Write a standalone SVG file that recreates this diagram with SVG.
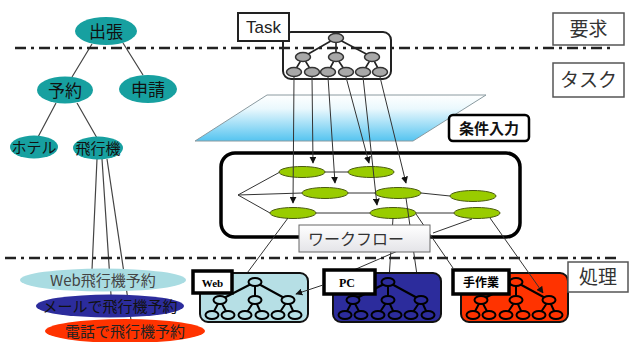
<svg xmlns="http://www.w3.org/2000/svg" width="629" height="342" viewBox="0 0 629 342">
<style>
.jp{font-family:"Noto Sans CJK JP","Noto Sans",sans-serif;}
.dd{stroke:#222;stroke-width:2.5;stroke-dasharray:11 5 3 5;fill:none;}
.teal{fill:#17a0a0;}
.thin{stroke:#333;stroke-width:1;fill:none;}
.ln{stroke:#444;stroke-width:1.2;fill:none;}
.wf{fill:#99cc00;stroke:#4a5a10;stroke-width:1;}
.tn{fill:#a8a8a8;stroke:#333;stroke-width:1.5;}
.te{stroke:#222;stroke-width:1.6;fill:none;}
.be{stroke:#000;stroke-width:2;fill:none;}
.lab{fill:#fff;stroke:#000;stroke-width:3.5;}
.rlab{fill:#fff;stroke:#555;stroke-width:1.5;}
</style>
<defs>
<marker id="ar" viewBox="0 0 10 10" refX="9" refY="5" markerWidth="7" markerHeight="7" orient="auto" markerUnits="userSpaceOnUse">
<path d="M0,0 L10,5 L0,10 z" fill="#111"/>
</marker>
<linearGradient id="plane" x1="0" y1="0" x2="0" y2="1">
<stop offset="0" stop-color="#ffffff"/>
<stop offset="0.3" stop-color="#eaf8fd"/>
<stop offset="1" stop-color="#55c4f0"/>
</linearGradient>
<linearGradient id="wfl" x1="0" y1="0" x2="0" y2="1">
<stop offset="0" stop-color="#ffffff"/>
<stop offset="1" stop-color="#e4e4e8"/>
</linearGradient>
<g id="subtree">
<path class="be" d="M255,282 L220,300 M255,282 L255,300 M255,282 L288,300 M220,300 L212,315 M220,300 L228,315 M255,300 L245,315 M255,300 L262,315 M288,300 L278,315 M288,300 L295,315"/>
<ellipse cx="255" cy="282" rx="6.5" ry="4" stroke="#000" stroke-width="2"/>
<ellipse cx="220" cy="300" rx="6.5" ry="4" stroke="#000" stroke-width="2"/>
<ellipse cx="255" cy="300" rx="6.5" ry="4" stroke="#000" stroke-width="2"/>
<ellipse cx="288" cy="300" rx="6.5" ry="4" stroke="#000" stroke-width="2"/>
<ellipse cx="212" cy="315" rx="6.5" ry="4" stroke="#000" stroke-width="2"/>
<ellipse cx="228" cy="315" rx="6.5" ry="4" stroke="#000" stroke-width="2"/>
<ellipse cx="245" cy="315" rx="6.5" ry="4" stroke="#000" stroke-width="2"/>
<ellipse cx="262" cy="315" rx="6.5" ry="4" stroke="#000" stroke-width="2"/>
<ellipse cx="278" cy="315" rx="6.5" ry="4" stroke="#000" stroke-width="2"/>
<ellipse cx="295" cy="315" rx="6.5" ry="4" stroke="#000" stroke-width="2"/>
</g>
</defs>
<rect width="629" height="342" fill="#fff"/>

<!-- left tree connectors -->
<g id="connectors-left">
<path class="ln" d="M92,44 L72,77 M123,43 L143,75 M56,103 L38,137 M77,103 L97,138"/>
<path class="ln" d="M97,159 L92,270 M102,159 L111,295 M107,159 L131,320"/>
</g>

<!-- plane -->
<g id="plane-input">
<polygon points="267,95 486,95 413,141 195,141" fill="url(#plane)" stroke="#8a9aa0" stroke-width="1"/>
</g>

<!-- Task tree -->
<g id="task">
<rect x="283" y="32" width="108" height="47" rx="8" fill="#fff" stroke="#222" stroke-width="2"/>
<path class="te" d="M336,38 L303,57 M336,38 L336,57 M336,38 L372,57 M303,57 L294,72 M303,57 L312,72 M336,57 L328,72 M336,57 L346,72 M372,57 L363,72 M372,57 L380,72"/>
<ellipse class="tn" cx="336" cy="38" rx="7.5" ry="4.5"/>
<ellipse class="tn" cx="303" cy="57" rx="7.5" ry="4.5"/>
<ellipse class="tn" cx="336" cy="57" rx="7.5" ry="4.5"/>
<ellipse class="tn" cx="372" cy="57" rx="7.5" ry="4.5"/>
<ellipse class="tn" cx="294" cy="72" rx="7.5" ry="4.5"/>
<ellipse class="tn" cx="312" cy="72" rx="7.5" ry="4.5"/>
<ellipse class="tn" cx="328" cy="72" rx="7.5" ry="4.5"/>
<ellipse class="tn" cx="346" cy="72" rx="7.5" ry="4.5"/>
<ellipse class="tn" cx="363" cy="72" rx="7.5" ry="4.5"/>
<ellipse class="tn" cx="380" cy="72" rx="7.5" ry="4.5"/>
<rect x="238" y="13" width="51" height="28" fill="#fff" stroke="#222" stroke-width="2"/>
<text x="263.5" y="33" font-family="Liberation Sans, Arial, sans-serif" font-size="17" text-anchor="middle" fill="#222">Task</text>
</g>

<!-- workflow box -->
<g id="workflow">
<rect x="221" y="153" width="299" height="84" rx="14" fill="#fff" stroke="#000" stroke-width="3.5"/>
<path class="thin" d="M238,195 L280,172 M238,195 L302,193 M238,195 L270,213 M325,172 L348,172 M348,193 L375,193 M421,193 L450,196 M316,213 L370,213 M416,213 L454,213"/>
<ellipse class="wf" cx="302" cy="172" rx="23" ry="5.5"/>
<ellipse class="wf" cx="371" cy="172" rx="23" ry="5.5"/>
<ellipse class="wf" cx="325" cy="193" rx="23" ry="5.5"/>
<ellipse class="wf" cx="398" cy="193" rx="23" ry="5.5"/>
<ellipse class="wf" cx="473" cy="196" rx="23" ry="5.5"/>
<ellipse class="wf" cx="293" cy="213" rx="23" ry="5.5"/>
<ellipse class="wf" cx="393" cy="213" rx="23" ry="5.5"/>
<ellipse class="wf" cx="477" cy="213" rx="23" ry="5.5"/>
</g>

<!-- connectors -->
<g id="connectors">
<path class="thin" marker-end="url(#ar)" d="M294,77 L293,203"/>
<path class="thin" marker-end="url(#ar)" d="M312,77 L313,163"/>
<path class="thin" marker-end="url(#ar)" d="M328,77 L335,183"/>
<path class="thin" marker-end="url(#ar)" d="M346,77 L369,163"/>
<path class="thin" marker-end="url(#ar)" d="M363,77 L377,205"/>
<path class="thin" marker-end="url(#ar)" d="M380,77 L406,183"/>
<path class="thin" d="M288,218 L236,288"/>
<path class="thin" d="M393,218 L389,279"/>
<path class="thin" d="M406,198 L420,296"/>
<path class="thin" d="M472,219 L433,233"/>
<path class="thin" d="M416,214 L453,268"/>
<path class="thin" d="M400,250 L356,269 L323,285"/>
</g>

<!-- workflow label -->
<g id="workflow-label">
<rect x="299" y="225" width="131" height="27" fill="url(#wfl)" stroke="#666" stroke-width="1"/>
<text x="308" y="245" class="jp" font-size="16" fill="#333">ワークフロー</text>
</g>

<!-- condition input -->
<g id="condition">
<rect x="449" y="115" width="80" height="26" rx="4" fill="#fff" stroke="#000" stroke-width="2.5"/>
<text x="489" y="134" class="jp" font-size="15" font-weight="bold" text-anchor="middle" fill="#111">条件入力</text>
</g>

<!-- dash-dot separators -->
<g id="separators">
<line class="dd" x1="15" y1="48" x2="615" y2="48"/>
<line class="dd" x1="5" y1="258" x2="620" y2="258"/>
</g>

<!-- left tree nodes -->
<g id="n-shucchou"><ellipse class="teal" cx="106" cy="31" rx="31" ry="14"/><text x="106" y="37.5" class="jp" font-size="17" text-anchor="middle" fill="#111">出張</text></g>
<g id="n-yoyaku"><ellipse class="teal" cx="65" cy="90" rx="28" ry="13.5"/><text x="65" y="96.5" class="jp" font-size="17" text-anchor="middle" fill="#111">予約</text></g>
<g id="n-shinsei"><ellipse class="teal" cx="148" cy="89" rx="29" ry="14"/><text x="148" y="95.5" class="jp" font-size="17" text-anchor="middle" fill="#111">申請</text></g>
<g id="n-hotel"><ellipse class="teal" cx="34" cy="147" rx="24" ry="11.5"/><text x="34" y="153" class="jp" font-size="15" text-anchor="middle" fill="#111">ホテル</text></g>
<g id="n-hikouki"><ellipse class="teal" cx="98" cy="148" rx="25" ry="11.5"/><text x="98" y="154" class="jp" font-size="15" text-anchor="middle" fill="#111">飛行機</text></g>

<!-- bottom left ellipses -->
<g id="n-web"><ellipse cx="103" cy="280" rx="83" ry="11.5" fill="#a9dce2"/><text x="103" y="286" class="jp" font-size="15" text-anchor="middle" fill="#444">Web飛行機予約</text></g>
<g id="n-mail"><ellipse cx="110" cy="306" rx="74" ry="11.5" fill="#2c2c9c"/><text x="110" y="312" class="jp" font-size="15" text-anchor="middle" fill="#111">メールで飛行機予約</text></g>
<g id="n-tel"><ellipse cx="125" cy="331" rx="80" ry="12" fill="#ff3300"/><text x="125" y="337" class="jp" font-size="15" text-anchor="middle" fill="#222">電話で飛行機予約</text></g>

<!-- bottom process trees -->
<g id="p-web">
<rect x="200" y="273" width="108" height="49" rx="8" fill="#b6dfe5" stroke="#111" stroke-width="2"/>
<use href="#subtree" fill="#b6dfe5"/>
<rect class="lab" x="193" y="271" width="39" height="22"/>
<text x="212.5" y="286.5" font-family="Liberation Serif, serif" font-weight="bold" font-size="11" text-anchor="middle" fill="#000">Web</text>
</g>
<g id="p-pc">
<rect x="333" y="273" width="108" height="49" rx="8" fill="#2c2c9c" stroke="#111" stroke-width="2"/>
<use href="#subtree" transform="translate(133,0)" fill="#2c2c9c"/>
<rect class="lab" x="324" y="270" width="51" height="24"/>
<text x="339" y="286.5" font-family="Liberation Serif, serif" font-weight="bold" font-size="12" fill="#000">PC</text>
</g>
<g id="p-manual">
<rect x="461" y="273" width="107" height="49" rx="8" fill="#ff3300" stroke="#111" stroke-width="2"/>
<use href="#subtree" transform="translate(261,0)" fill="#ff3300"/>
<rect class="lab" x="453" y="270" width="56" height="24"/>
<text x="481" y="287" class="jp" font-weight="bold" font-size="12" text-anchor="middle" fill="#000">手作業</text>
</g>
<g id="connectors-top">
<path class="thin" marker-end="url(#ar)" d="M323,285 L296,294"/>
<path class="thin" marker-end="url(#ar)" d="M490,218 L543,293"/>
</g>

<!-- right-side labels -->
<g id="r-youkyuu"><rect class="rlab" x="553" y="13" width="71" height="32"/><text x="588.5" y="36" class="jp" font-size="19" text-anchor="middle" fill="#333">要求</text></g>
<g id="r-task"><rect class="rlab" x="553" y="63" width="71" height="34"/><text x="588.5" y="87" class="jp" font-size="19" text-anchor="middle" fill="#333">タスク</text></g>
<g id="r-shori"><rect class="rlab" x="568" y="262" width="60" height="30"/><text x="598" y="284" class="jp" font-size="19" text-anchor="middle" fill="#333">処理</text></g>
</svg>
